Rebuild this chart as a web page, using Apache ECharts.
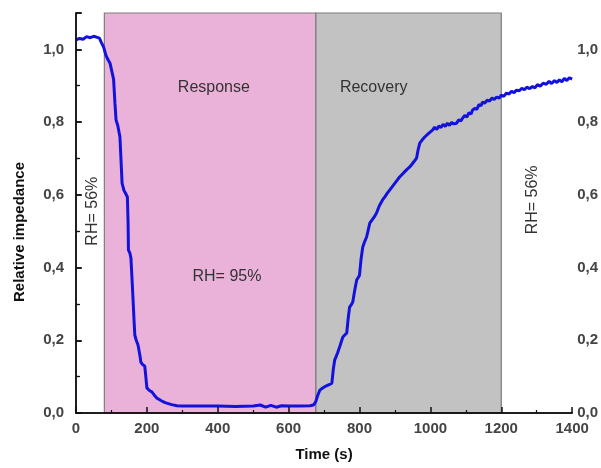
<!DOCTYPE html>
<html>
<head>
<meta charset="utf-8">
<script src="https://cdn.jsdelivr.net/npm/echarts@6/dist/echarts.min.js"></script>
<style>html,body{margin:0;padding:0;background:#fff}#c{width:601px;height:468px}</style>
</head>
<body>
<div id="c"></div>
<script>
const time = [0,10,20,30,40,50,60,66,72,78,84,90,96,101,106,110,113,118,124,127,130,135,142,145,147,148,152,155,158,161,164,166,170,175,180,183,188,194,197,200,207,214,221,228,235,242,250,256,270,285,300,350,400,450,500,520,535,550,565,580,600,630,660,670,676,682,688,695,705,714,722,726,730,734,738,745,753,758,764,768,772,777,781,786,792,796,800,804,809,814,820,825,829,836,842,848,856,865,872,878,885,892,900,907,913,920,927,934,941,948,955,961,965,970,976,984,992,1000,1006,1012,1018,1024,1030,1036,1042,1048,1054,1060,1066,1074,1080,1086,1091,1097,1103,1109,1115,1119,1125,1131,1137,1143,1147,1153,1160,1167,1174,1180,1187,1194,1200,1207,1215,1222,1229,1236,1243,1251,1258,1265,1272,1280,1288,1295,1302,1310,1318,1327,1335,1342,1350,1357,1364,1371,1378,1385,1392,1400];
const impedance = [1.026,1.030,1.028,1.035,1.032,1.036,1.033,1.031,1.018,1.006,0.985,0.972,0.962,0.940,0.918,0.850,0.806,0.790,0.759,0.696,0.632,0.613,0.600,0.594,0.522,0.448,0.440,0.426,0.370,0.311,0.250,0.214,0.200,0.187,0.160,0.140,0.133,0.129,0.100,0.069,0.062,0.058,0.049,0.041,0.037,0.033,0.029,0.027,0.023,0.020,0.019,0.019,0.019,0.018,0.019,0.022,0.016,0.021,0.016,0.020,0.019,0.019,0.020,0.022,0.030,0.048,0.063,0.068,0.074,0.078,0.082,0.120,0.146,0.155,0.165,0.185,0.209,0.214,0.220,0.260,0.291,0.298,0.305,0.335,0.366,0.372,0.379,0.420,0.456,0.470,0.484,0.505,0.522,0.532,0.540,0.550,0.570,0.586,0.595,0.604,0.613,0.622,0.632,0.641,0.649,0.656,0.663,0.670,0.676,0.684,0.693,0.701,0.722,0.742,0.750,0.759,0.766,0.773,0.778,0.786,0.780,0.789,0.785,0.794,0.788,0.797,0.791,0.799,0.795,0.797,0.806,0.803,0.811,0.818,0.814,0.826,0.822,0.833,0.838,0.835,0.848,0.845,0.855,0.852,0.860,0.858,0.866,0.862,0.869,0.866,0.874,0.871,0.880,0.877,0.885,0.881,0.888,0.886,0.893,0.889,0.896,0.892,0.898,0.894,0.903,0.899,0.907,0.904,0.912,0.906,0.914,0.909,0.916,0.911,0.920,0.914,0.922,0.918];
const phaseNames = ['Response', 'Recovery'];
const phaseStart = [80, 677];
const phaseEnd = [677, 1200];
const phaseColors = ['#EAB2D9', '#C2C2C2'];
const xTicks = [0, 200, 400, 600, 800, 1000, 1200, 1400];
const yTicks = [0, 0.2, 0.4, 0.6, 0.8, 1.0];
const notes = ['Response', 'Recovery', 'RH= 95%', 'RH= 56%', 'RH= 56%'];
const noteX = [389, 840, 426, 48, 1288];
const noteY = [0.896, 0.896, 0.374, 0.555, 0.586];
const noteRot = [0, 0, 0, 90, 90];

const FONT = '"Liberation Sans", Arial, sans-serif';
const chart = echarts.init(document.getElementById('c'), null, {renderer: 'canvas'});
const fmt = v => v.toFixed(1).replace('.', ',');
const lineStyle = {color: '#111', width: 1.5};
const option = {
  animation: false,
  backgroundColor: '#fff',
  grid: {left: 76, right: 28, top: 13, bottom: 55},
  xAxis: [{
    type: 'value', min: xTicks[0], max: xTicks[xTicks.length - 1], interval: 200, z: 10,
    axisLine: {show: true, lineStyle},
    axisTick: {show: true, inside: true, length: 6, lineStyle: {color: '#111', width: 1.5}},
    minorTick: {show: true, splitNumber: 2, length: 3, lineStyle: {color: '#111', width: 1.2}},
    splitLine: {show: false},
    axisLabel: {fontFamily: FONT, fontSize: 15, color: '#444', fontWeight: 'bold', margin: 8, formatter: v => String(v)},
    name: 'Time (s)', nameLocation: 'middle', nameGap: 34,
    nameTextStyle: {fontFamily: FONT, fontSize: 15, fontWeight: 'bold', color: '#111'}
  }, {
    type: 'value', position: 'top', min: 0, max: 1400, z: 10,
    axisLine: {show: true, lineStyle}, axisTick: {show: false}, axisLabel: {show: false}, splitLine: {show: false}
  }],
  yAxis: [{
    type: 'value', min: 0, max: 1.1, interval: 0.2, z: 10,
    axisLine: {show: true, lineStyle},
    axisTick: {show: true, inside: true, length: 6, lineStyle: {color: '#111', width: 1.5}},
    minorTick: {show: true, splitNumber: 2, length: 4, lineStyle: {color: '#111', width: 1.2}},
    splitLine: {show: false},
    axisLabel: {fontFamily: FONT, fontSize: 15, color: '#444', fontWeight: 'bold', margin: 12, formatter: fmt, showMaxLabel: false}
  }, {
    type: 'value', position: 'right', min: 0, max: 1.1, interval: 0.2, z: 10,
    axisLine: {show: true, lineStyle},
    axisTick: {show: true, inside: false, length: 5, lineStyle: {color: '#111', width: 1.5}},
    minorTick: {show: true, splitNumber: 2, length: 3, lineStyle: {color: '#111', width: 1.2}},
    splitLine: {show: false},
    axisLabel: {fontFamily: FONT, fontSize: 15, color: '#444', fontWeight: 'bold', margin: 5, formatter: fmt, showMaxLabel: false}
  }],
  series: [{
    type: 'line',
    data: time.map((t, i) => [t, impedance[i]]),
    showSymbol: false,
    z: 3,
    lineStyle: {color: '#1212dc', width: 3},
    markArea: {
      silent: true,
      data: phaseNames.map((n, i) => [
        {xAxis: phaseStart[i], itemStyle: {color: phaseColors[i], borderColor: '#7d7d7d', borderWidth: 1.2}},
        {xAxis: phaseEnd[i]}
      ]),
      label: {show: false}
    }
  }]
};
chart.setOption(option);

const graphics = notes.map((t, i) => {
  const p = chart.convertToPixel({gridIndex: 0}, [noteX[i], noteY[i]]);
  return {
    type: 'text', x: p[0], y: p[1], rotation: noteRot[i] * Math.PI / 180, z: 20,
    style: {text: t, fontFamily: FONT, fontSize: 16, fill: '#333', align: 'center', verticalAlign: 'middle'}
  };
});
graphics.push({
  type: 'text', x: 20, y: 232, rotation: Math.PI / 2, z: 20,
  style: {text: 'Relative impedance', fontFamily: FONT, fontSize: 15, fontWeight: 'bold', fill: '#111', align: 'center', verticalAlign: 'middle'}
});
chart.setOption({graphic: graphics});
</script>
</body>
</html>
